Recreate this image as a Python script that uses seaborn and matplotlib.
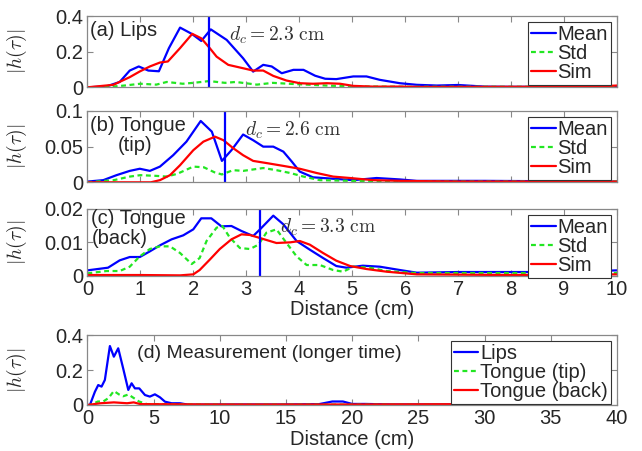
import matplotlib
matplotlib.use("Agg")
import matplotlib.pyplot as plt
import seaborn as sns

# ---- data ----
# (a) Lips
lips_x_mean = [0, 0.36, 0.61, 0.8, 0.97, 1.15, 1.35, 1.54, 1.75, 1.97, 2.15, 2.33, 2.63, 2.94, 3.13,
               3.32, 3.48, 3.67, 3.89, 4.08, 4.3, 4.49, 4.7, 5.02, 5.27, 5.52, 5.9, 6.22, 6.6, 7.0,
               7.5, 8.0, 9.0, 10.0]
lips_mean = [0, 0.005, 0.03, 0.094, 0.117, 0.094, 0.09, 0.22, 0.335, 0.30, 0.26, 0.325, 0.266, 0.163,
             0.088, 0.126, 0.117, 0.079, 0.098, 0.098, 0.065, 0.048, 0.046, 0.061, 0.061, 0.042, 0.023,
             0.014, 0.01, 0.013, 0.004, 0.003, 0.003, 0.002]
lips_x_std = [0, 0.4, 0.7, 1.0, 1.3, 1.5, 1.8, 2.0, 2.3, 2.6, 2.8, 3.2, 3.5, 3.8, 4.5, 5.0, 6.0, 8.0, 10.0]
lips_std = [0, 0.002, 0.01, 0.02, 0.015, 0.03, 0.02, 0.025, 0.035, 0.025, 0.03, 0.015, 0.025, 0.02,
            0.01, 0.005, 0.003, 0.003, 0.003]
lips_x_sim = [0, 0.49, 0.8, 0.99, 1.18, 1.37, 1.52, 1.75, 1.98, 2.15, 2.31, 2.44, 2.66, 2.94, 3.13,
              3.32, 3.51, 3.76, 4.01, 4.26, 4.52, 4.77, 5.02, 5.4, 5.9, 6.28, 8.0, 9.5, 10.0]
lips_sim = [0, 0.014, 0.057, 0.089, 0.117, 0.139, 0.145, 0.22, 0.30, 0.275, 0.22, 0.172, 0.126, 0.107,
            0.094, 0.094, 0.064, 0.038, 0.023, 0.02, 0.023, 0.02, 0.008, 0.004, 0.004, 0.002, 0.003,
            0.003, 0.01]

# (b) Tongue (tip)
tip_x_mean = [0, 0.3, 0.55, 0.8, 0.99, 1.18, 1.37, 1.62, 1.87, 2.14, 2.35, 2.54, 2.72, 2.94, 3.13,
              3.32, 3.51, 3.7, 3.86, 4.01, 4.26, 4.64, 5.02, 5.46, 5.9, 6.22, 7.5, 10.0]
tip_mean = [0.001, 0.003, 0.01, 0.016, 0.019, 0.016, 0.022, 0.038, 0.057, 0.086, 0.071, 0.03, 0.045,
            0.067, 0.059, 0.05, 0.05, 0.043, 0.029, 0.015, 0.007, 0.005, 0.003, 0.006, 0.004, 0.002,
            0.002, 0.001]
tip_x_std = [0, 0.5, 0.8, 1.0, 1.3, 1.5, 1.7, 2.0, 2.2, 2.4, 2.54, 2.75, 2.94, 3.32, 3.57, 3.83, 4.08,
             4.39, 5.0, 7.0, 10.0]
tip_std = [0, 0.003, 0.008, 0.01, 0.009, 0.008, 0.012, 0.022, 0.021, 0.014, 0.011, 0.017, 0.016, 0.02,
           0.017, 0.013, 0.008, 0.003, 0.002, 0.001, 0.001]
tip_x_sim = [0, 1.2, 1.37, 1.56, 1.75, 2.0, 2.19, 2.41, 2.57, 2.75, 2.94, 3.13, 3.38, 3.7, 4.01, 4.33,
             4.64, 4.96, 5.4, 5.9, 7.0, 10.0]
tip_sim = [0, 0, 0.003, 0.01, 0.024, 0.045, 0.057, 0.064, 0.059, 0.048, 0.038, 0.03, 0.027, 0.023,
           0.019, 0.013, 0.008, 0.006, 0.003, 0.002, 0.001, 0.001]

# (c) Tongue (back)
back_x_mean = [0, 0.39, 0.61, 0.8, 0.99, 1.18, 1.37, 1.59, 1.81, 2.0, 2.15, 2.34, 2.53, 2.72, 2.91,
               3.13, 3.26, 3.51, 3.7, 3.95, 4.2, 4.45, 4.7, 4.89, 5.2, 5.52, 5.9, 6.22, 7.0, 8.0,
               9.0, 10.0]
back_mean = [0.0016, 0.0024, 0.0046, 0.0056, 0.0056, 0.0073, 0.0091, 0.0109, 0.0121, 0.0139, 0.0172,
             0.0172, 0.0148, 0.0149, 0.0134, 0.0119, 0.0139, 0.018, 0.0154, 0.0104, 0.0078, 0.0053,
             0.0029, 0.0024, 0.003, 0.0027, 0.0017, 0.0009, 0.0011, 0.0011, 0.0011, 0.0016]
back_x_std = [0, 0.36, 0.61, 0.8, 0.99, 1.18, 1.37, 1.56, 1.75, 1.97, 2.12, 2.25, 2.44, 2.55, 2.69,
              2.88, 3.07, 3.23, 3.38, 3.57, 3.76, 3.95, 4.14, 4.39, 4.64, 4.83, 5.02, 5.33, 5.65,
              6.2, 8.0, 10.0]
back_std = [0.0007, 0.0014, 0.0014, 0.0027, 0.0058, 0.008, 0.0088, 0.0088, 0.0068, 0.0035, 0.0053,
            0.0104, 0.0144, 0.0149, 0.0114, 0.0083, 0.008, 0.0093, 0.0129, 0.0139, 0.0098, 0.0058,
            0.0032, 0.0032, 0.0017, 0.0012, 0.0027, 0.0024, 0.0014, 0.0008, 0.0008, 0.0008]
back_x_sim = [0, 1.0, 1.75, 2.0, 2.12, 2.31, 2.5, 2.72, 2.91, 3.07, 3.32, 3.57, 3.83, 4.01, 4.2, 4.45,
              4.7, 4.96, 5.27, 5.65, 6.22, 8.0, 10.0]
back_sim = [0.0002, 0.0002, 0.0001, 0.0004, 0.0017, 0.0048, 0.008, 0.0109, 0.0124, 0.0122, 0.011,
            0.0098, 0.01, 0.0104, 0.0093, 0.0068, 0.0045, 0.0029, 0.002, 0.0012, 0.0004, 0.0002,
            0.0004]

# (d) Measurement (longer time)
long_x_lips = [0, 0.19, 0.57, 0.82, 1.07, 1.32, 1.7, 2.0, 2.33, 2.7, 3.09, 3.34, 3.59, 3.92, 4.35,
               4.72, 5.1, 5.48, 5.86, 6.36, 7.0, 7.6, 10, 15, 17.5, 18.5, 19.3, 20, 21, 23, 30, 32,
               35, 39]
long_lips = [0, 0, 0.076, 0.114, 0.105, 0.143, 0.337, 0.276, 0.324, 0.21, 0.086, 0.124, 0.095, 0.095,
             0.057, 0.048, 0.061, 0.044, 0.019, 0.01, 0.01, 0.002, 0.003, 0.003, 0.005, 0.02, 0.02,
             0.006, 0.006, 0.003, 0.003, 0.005, 0.003, 0.003]
long_x_tip = [0, 0.2, 0.8, 1.2, 1.6, 2.0, 2.4, 2.7, 3.1, 3.5, 3.9, 4.5, 10, 20, 30, 39]
long_tip = [0, 0, 0.02, 0.02, 0.04, 0.08, 0.06, 0.05, 0.06, 0.04, 0.02, 0.005, 0.002, 0.002, 0.002,
            0.002]
long_x_back = [0, 1.0, 2.0, 3.0, 3.5, 4.0, 10, 20, 30, 32, 39]
long_back = [0, 0.01, 0.015, 0.01, 0.015, 0.005, 0.003, 0.003, 0.005, 0.005, 0.003]

dc_values = [2.3, 2.6, 3.25]
dc_labels = ["2.3", "2.6", "3.3"]

# ---- styling ----
sns.set_theme(style="ticks")
plt.rcParams['font.family'] = ['Liberation Sans', 'DejaVu Sans']
plt.rcParams['mathtext.fontset'] = 'cm'
FS = 14.5
plt.rcParams['font.size'] = FS

BLUE, GREEN, RED, GREY = '#0000ff', '#22e622', '#ff0000', '#888888'
LW = 1.6
DASH = (2.2, 1.6)

fig = plt.figure(figsize=(6.42, 4.51), dpi=100)
left, width = 0.1361, 0.825
ax_a = fig.add_axes([left, 0.8064, width, 0.1581])
ax_b = fig.add_axes([left, 0.5958, width, 0.1581])
ax_c = fig.add_axes([left, 0.3887, width, 0.1479])
ax_d = fig.add_axes([left, 0.1020, width, 0.1552])


def style_axes(ax):
    for s in ax.spines.values():
        s.set_color(GREY)
        s.set_linewidth(0.9)
    ax.tick_params(direction='in', top=True, right=True, length=4, width=0.8,
                   color=GREY, labelsize=FS, pad=3)
    ax.set_ylabel(r'$|h(\tau)|$', fontsize=14)
    ax.yaxis.set_label_coords(-0.11, 0.5)


def legend(ax, loc):
    leg = ax.legend(loc=loc, fontsize=FS, handlelength=1.2, handletextpad=0.1,
                    labelspacing=0.0, borderpad=0.15, borderaxespad=0.3,
                    fancybox=False, framealpha=1)
    leg.get_frame().set_edgecolor('#333333')
    leg.get_frame().set_linewidth(0.8)


panels = [
    (ax_a, lips_x_mean, lips_mean, lips_x_std, lips_std, lips_x_sim, lips_sim, 0.4, [0, 0.2, 0.4],
     ['0', '0.2', '0.4']),
    (ax_b, tip_x_mean, tip_mean, tip_x_std, tip_std, tip_x_sim, tip_sim, 0.1, [0, 0.05, 0.1],
     ['0', '0.05', '0.1']),
    (ax_c, back_x_mean, back_mean, back_x_std, back_std, back_x_sim, back_sim, 0.02, [0, 0.01, 0.02],
     ['0', '0.01', '0.02']),
]

for i, (ax, xm, ym, xs, ys, xr, yr, ymax, yt, ytl) in enumerate(panels):
    sns.lineplot(x=xm, y=ym, color=BLUE, lw=LW, label='Mean', ax=ax)
    sns.lineplot(x=xs, y=ys, color=GREEN, lw=LW, dashes=DASH, label='Std', ax=ax)
    sns.lineplot(x=xr, y=yr, color=RED, lw=LW, label='Sim', ax=ax)
    ax.axvline(dc_values[i], color=BLUE, lw=LW)
    ax.set_xlim(0, 10)
    ax.set_ylim(0, ymax)
    ax.set_xticks(range(0, 11))
    ax.set_yticks(yt)
    ax.set_yticklabels(ytl)
    style_axes(ax)
    legend(ax, 'upper right')
    ax.text(dc_values[i] + 0.38, 0.73, r'$d_c = %s\ \mathrm{cm}$' % dc_labels[i],
            transform=ax.get_xaxis_transform(), fontsize=14, color='#333333',
            ha='left', va='center')

ax_a.set_xticklabels([])
ax_b.set_xticklabels([])
ax_a.set_xlabel('')
ax_b.set_xlabel('')
ax_c.set_xlabel('Distance (cm)', fontsize=FS, labelpad=1)

ax_a.text(0.005, 0.80, '(a) Lips', transform=ax_a.transAxes, fontsize=FS, va='center')
ax_b.text(0.005, 0.79, '(b) Tongue', transform=ax_b.transAxes, fontsize=FS, va='center')
ax_b.text(0.057, 0.52, '(tip)', transform=ax_b.transAxes, fontsize=FS, va='center')
ax_c.text(0.006, 0.85, '(c) Tongue', transform=ax_c.transAxes, fontsize=FS, va='center')
ax_c.text(0.008, 0.56, '(back)', transform=ax_c.transAxes, fontsize=FS, va='center')

# (d)
sns.lineplot(x=long_x_lips, y=long_lips, color=BLUE, lw=LW, label='Lips', ax=ax_d)
sns.lineplot(x=long_x_tip, y=long_tip, color=GREEN, lw=LW, dashes=DASH, label='Tongue (tip)', ax=ax_d)
sns.lineplot(x=long_x_back, y=long_back, color=RED, lw=LW, label='Tongue (back)', ax=ax_d)
ax_d.set_xlim(0, 40)
ax_d.set_ylim(0, 0.4)
ax_d.set_xticks(range(0, 41, 5))
ax_d.set_yticks([0, 0.2, 0.4])
ax_d.set_yticklabels(['0', '0.2', '0.4'])
style_axes(ax_d)
legend(ax_d, 'upper right')
ax_d.set_xlabel('Distance (cm)', fontsize=FS, labelpad=1)
ax_d.text(0.094, 0.74, '(d) Measurement (longer time)', transform=ax_d.transAxes, fontsize=14,
          va='center')

fig.savefig('out.png', dpi=100)
